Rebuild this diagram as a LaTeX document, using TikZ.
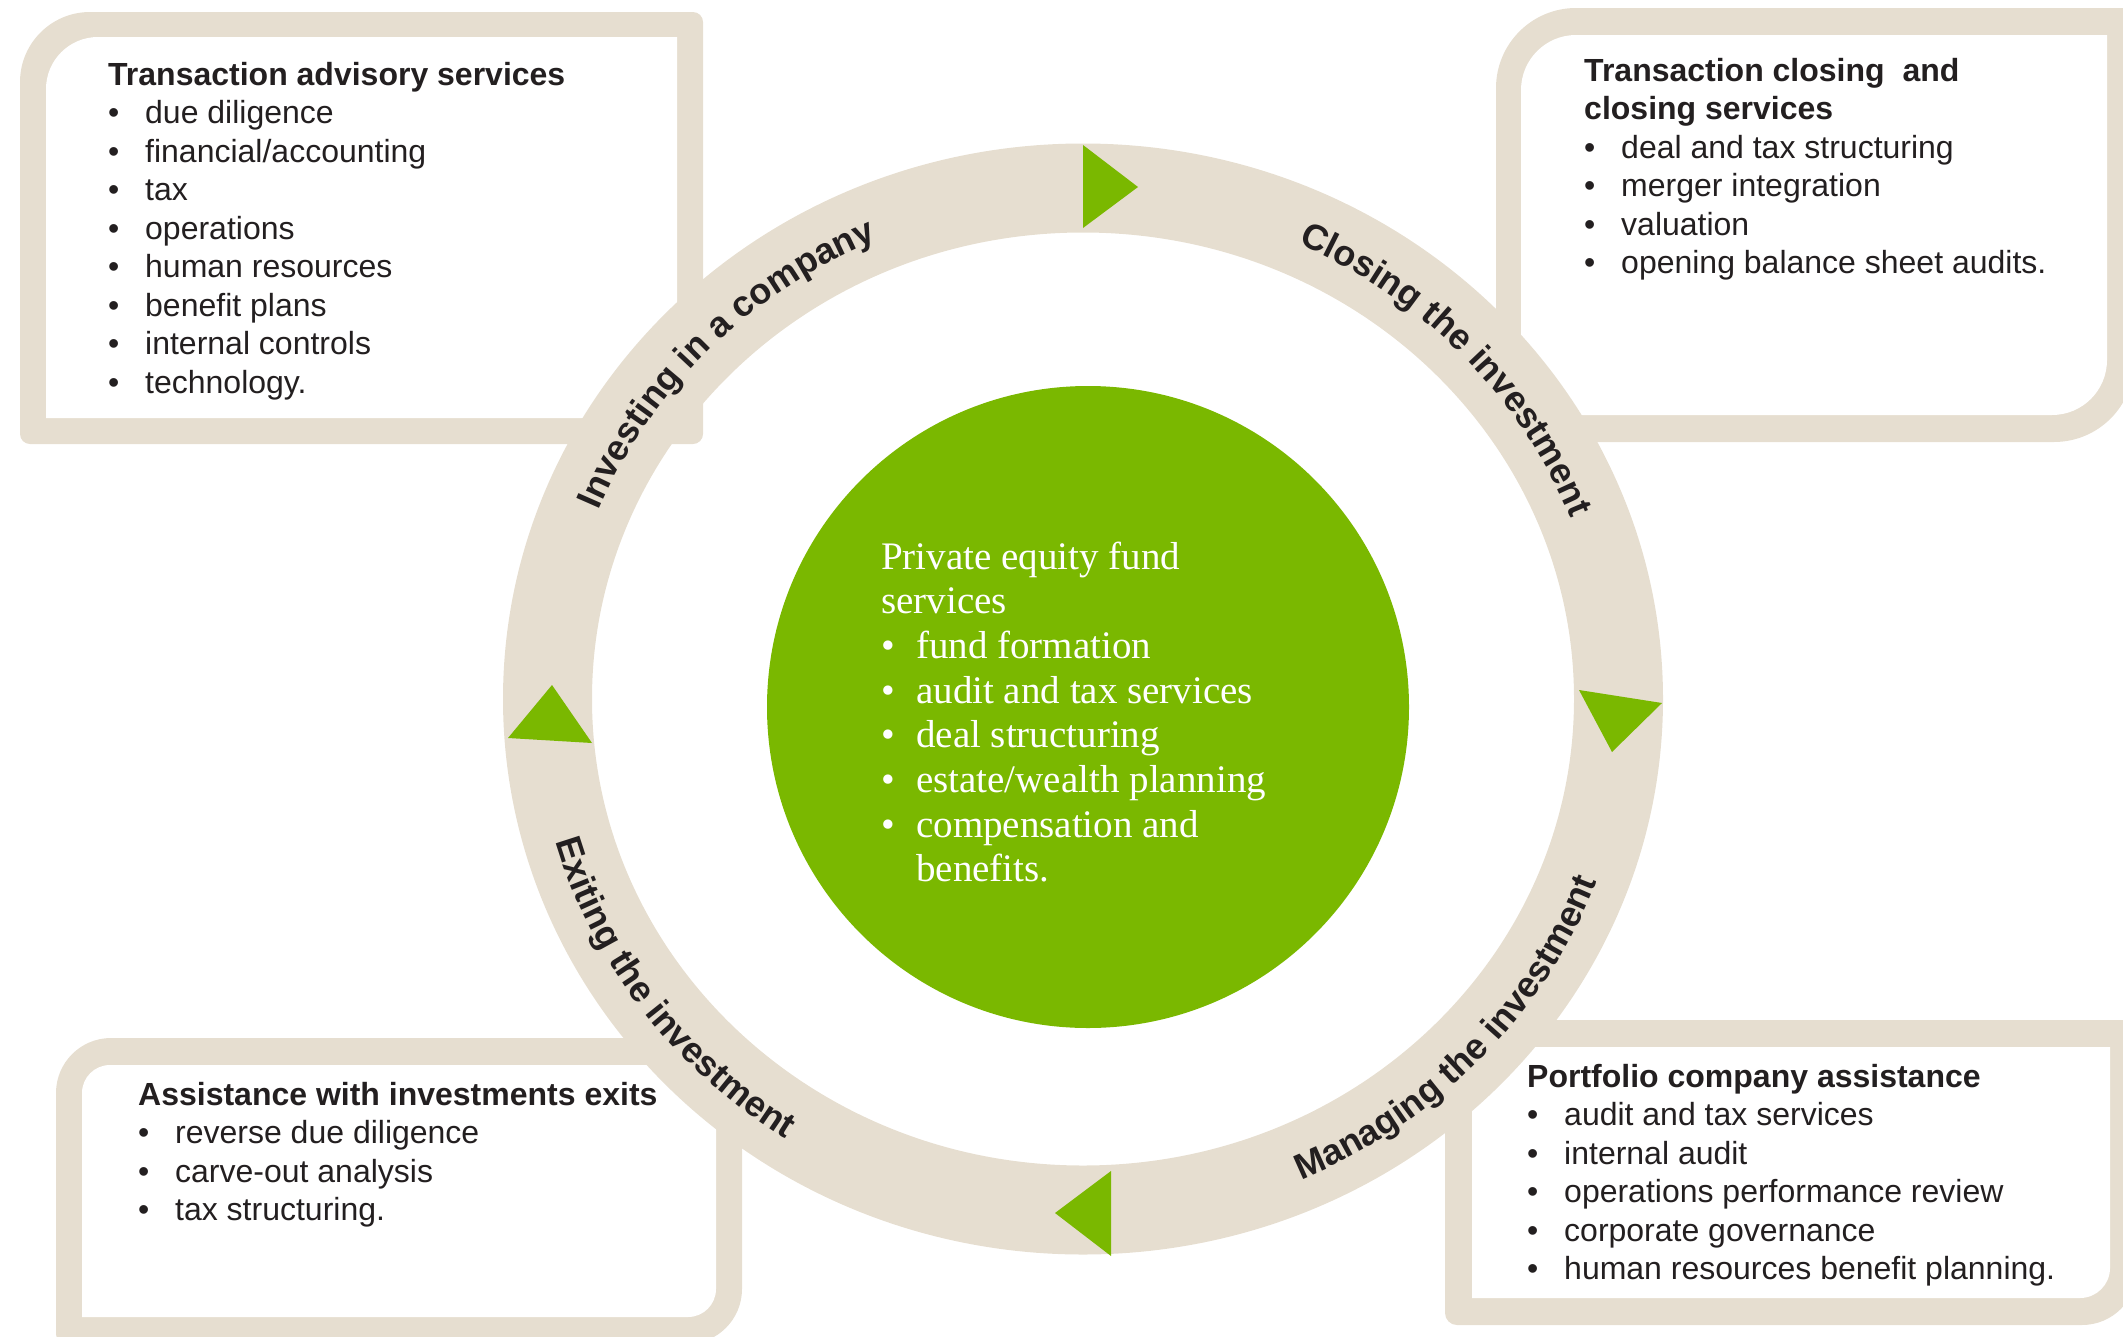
\documentclass[tikz,border=0pt]{standalone}
\usepackage{fontspec}
\setmainfont{Liberation Sans}
\newfontfamily\serifgar{Liberation Serif}
\usetikzlibrary{decorations.text}
\definecolor{beige}{HTML}{E6DED0}
\definecolor{kgreen}{HTML}{7AB800}
\definecolor{ink}{HTML}{231F20}
\newcommand\itm{\makebox[37pt][l]{\textbullet}}
\newcommand\citm{\makebox[35pt][l]{\textbullet}}
\begin{document}
\begin{tikzpicture}[x=1pt,y=1pt,
  boxtext/.style={anchor=base west, inner sep=0pt, align=left, text=ink,
    font=\fontsize{32}{38.5}\selectfont},
  frameouter/.style={fill=beige},
  frameinner/.style={fill=white},
  arrowtri/.style={fill=kgreen},
  ringtext/.style={decorate, decoration={text along path, text align=center,
    text={|\fontsize{36}{36}\selectfont\bfseries\color{ink}|#1}}}]
\useasboundingbox (0,0) rectangle (2123,-1336);
% top-left box
\path[frameouter] (20,-82) arc[start angle=180, end angle=90, radius=70] -- (693,-12)
  arc[start angle=90, end angle=0, radius=10] -- (703,-434)
  arc[start angle=0, end angle=-90, radius=10] -- (30,-444)
  arc[start angle=270, end angle=180, radius=10] -- cycle;
\path[frameinner] (46,-89) arc[start angle=180, end angle=90, radius=52] -- (677,-37)
  -- (677,-418) -- (46,-418) -- cycle;
% top-right box
\path[frameouter] (1496,-88) arc[start angle=180, end angle=90, radius=80] -- (2124,-8)
  arc[start angle=90, end angle=0, radius=10] -- (2134,-362)
  arc[start angle=0, end angle=-90, radius=80] -- (1506,-442)
  arc[start angle=270, end angle=180, radius=10] -- cycle;
\path[frameinner] (1521,-90) arc[start angle=180, end angle=90, radius=55] -- (2107,-35)
  -- (2107,-360) arc[start angle=0, end angle=-90, radius=55] -- (1521,-415) -- cycle;
% bottom-left box
\path[frameouter] (56,-1093) arc[start angle=180, end angle=90, radius=55] -- (732,-1038)
  arc[start angle=90, end angle=0, radius=10] -- (742,-1289)
  arc[start angle=0, end angle=-90, radius=55] -- (66,-1344)
  arc[start angle=270, end angle=180, radius=10] -- cycle;
\path[frameinner] (82,-1093) arc[start angle=180, end angle=90, radius=28] -- (716,-1065)
  -- (716,-1289) arc[start angle=0, end angle=-90, radius=28] -- (82,-1317) -- cycle;
% bottom-right box
\path[frameouter] (1445,-1030) arc[start angle=180, end angle=90, radius=10] -- (2127,-1020)
  arc[start angle=90, end angle=0, radius=10] -- (2137,-1270)
  arc[start angle=0, end angle=-90, radius=55] -- (1457,-1325)
  arc[start angle=270, end angle=180, radius=12] -- cycle;
\path[frameinner] (1472,-1047) -- (2110,-1047) -- (2110,-1268)
  arc[start angle=0, end angle=-90, radius=30] -- (1472,-1298) -- cycle;
% ring
\draw[beige, line width=89pt] (1083,-699) ellipse [x radius=535.5, y radius=511];
% arrow triangles
\path[arrowtri] (1083,-145) -- (1083,-228) -- (1138,-187) -- cycle;
\path[arrowtri] (1579,-690) -- (1662,-703) -- (1612,-752) -- cycle;
\path[arrowtri] (1111,-1171) -- (1111,-1256) -- (1055,-1213) -- cycle;
\path[arrowtri] (552,-685) -- (508,-738) -- (592,-743) -- cycle;
% centre circle
\fill[kgreen] (1088,-707) circle [radius=321];
% ring labels
\begin{scope}[shift={(1083,-699)}]
\path[ringtext={Investing in a company}] (181:523 and 499)
  arc[start angle=181, end angle=91, x radius=523, y radius=499];
\path[ringtext={Closing the investment}] (88:523 and 499)
  arc[start angle=88, end angle=-2, x radius=523, y radius=499];
\path[ringtext={Exiting the investment}] (171:548 and 524)
  arc[start angle=171, end angle=261, x radius=548, y radius=524];
\path[ringtext={Managing the investment}] (-88:548 and 524)
  arc[start angle=-88, end angle=2, x radius=548, y radius=524];
\end{scope}
% box texts (anchored at the baseline of the last line)
\node[boxtext] (tltext) at (108,-393) {\textbf{Transaction advisory services}\\
  \itm due diligence\\ \itm financial/accounting\\ \itm tax\\ \itm operations\\
  \itm human resources\\ \itm benefit plans\\ \itm internal controls\\ \itm technology.};
\node[boxtext] (trtext) at (1584,-273.5) {\textbf{Transaction closing\ \ and}\\
  \textbf{closing services}\\ \itm deal and tax structuring\\ \itm merger integration\\
  \itm valuation\\ \itm opening balance sheet audits.};
\node[boxtext] (bltext) at (138,-1220.5) {\textbf{Assistance with investments exits}\\
  \itm reverse due diligence\\ \itm carve-out analysis\\ \itm tax structuring.};
\node[boxtext] (brtext) at (1527,-1279.5) {\textbf{Portfolio company assistance}\\
  \itm audit and tax services\\ \itm internal audit\\ \itm operations performance review\\
  \itm corporate governance\\ \itm human resources benefit planning.};
% centre text
\node[anchor=base west, inner sep=0pt, align=left, text=white,
  font=\serifgar\fontsize{39}{44.7}\selectfont] (ctext) at (881,-881.9)
  {Private equity fund\\ services\\ \citm fund formation\\ \citm audit and tax services\\
   \citm deal structuring\\ \citm estate/wealth planning\\ \citm compensation and\\
   \hspace*{35pt}benefits.};
\end{tikzpicture}
\end{document}
